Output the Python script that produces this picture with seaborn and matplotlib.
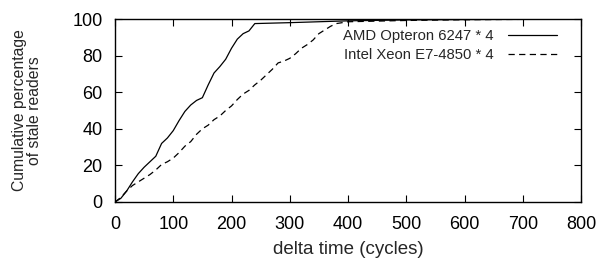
import matplotlib
matplotlib.use("Agg")
import matplotlib.pyplot as plt
import seaborn as sns
import pandas as pd

amd_x = [0, 10, 20, 30, 40, 50, 60, 70, 80, 90, 100, 110, 120, 130, 140, 150, 160, 170, 180,
         190, 200, 210, 220, 230, 240, 300, 400, 500, 600, 800]
amd_y = [0, 2, 6, 11, 15.5, 19, 22, 25, 32, 35, 39, 44.5, 49.5, 53, 55.5, 57, 64, 70.5, 74,
         78, 84, 89, 92, 93.5, 97.5, 98, 99, 99.5, 99.7, 100]
intel_x = [0, 10, 20, 30, 40, 50, 60, 70, 80, 90, 100, 110, 120, 130, 140, 150, 160, 170, 180,
           190, 200, 210, 220, 230, 240, 250, 260, 270, 280, 290, 300, 310, 320, 330, 340, 350,
           360, 370, 380, 400, 500, 600, 800]
intel_y = [0, 2.5, 6, 9, 11, 13, 15, 17.5, 20.5, 22, 24, 27, 30.5, 33, 37, 40, 42, 45, 47,
           50, 52.5, 56, 59, 61, 64, 66.5, 69.5, 72.5, 76, 77, 78.5, 81, 84, 86, 88.5, 92,
           94, 96, 97.5, 98.5, 99.2, 99.6, 100]
labels = ["AMD Opteron 6247 * 4", "Intel Xeon E7-4850 * 4"]
x_ticks = [0, 100, 200, 300, 400, 500, 600, 700, 800]
y_ticks = [0, 20, 40, 60, 80, 100]

sns.set_style("ticks")
plt.rcParams['font.family'] = ['Liberation Sans', 'DejaVu Sans']

fig = plt.figure(figsize=(6.03, 2.60), dpi=100)
ax = fig.add_axes([115/603, 1-202/260, (581-115)/603, (202-19)/260])

df_a = pd.DataFrame({"x": amd_x, "y": amd_y})
df_i = pd.DataFrame({"x": intel_x, "y": intel_y})
sns.lineplot(data=df_a, x="x", y="y", ax=ax, color="black", lw=0.9, label=labels[0])
sns.lineplot(data=df_i, x="x", y="y", ax=ax, color="black", lw=0.9,
             linestyle=(0, (5, 3.5)), label=labels[1])

ax.set_xlim(0, 800)
ax.set_ylim(0, 100)
ax.set_xticks(x_ticks)
ax.set_yticks(y_ticks)
ax.tick_params(direction="in", length=5, width=0.8, top=True, right=True,
               labelsize=13, pad=9, colors="black")
ax.tick_params(axis="x", pad=10)
for s in ax.spines.values():
    s.set_visible(True)
    s.set_linewidth(1.0)
    s.set_color("black")

ax.set_xlabel("delta time (cycles)", fontsize=13.5, labelpad=6)
ax.set_ylabel("Cumulative percentage\nof stale readers", fontsize=11.3, labelpad=22,
              linespacing=1.0)

leg = ax.legend(loc="upper right", frameon=False, markerfirst=False, fontsize=10.7,
                handlelength=3.3, handletextpad=1.0, labelspacing=0.35,
                borderaxespad=0.2, bbox_to_anchor=(0.968, 0.995))

fig.savefig("out.png", dpi=100)
